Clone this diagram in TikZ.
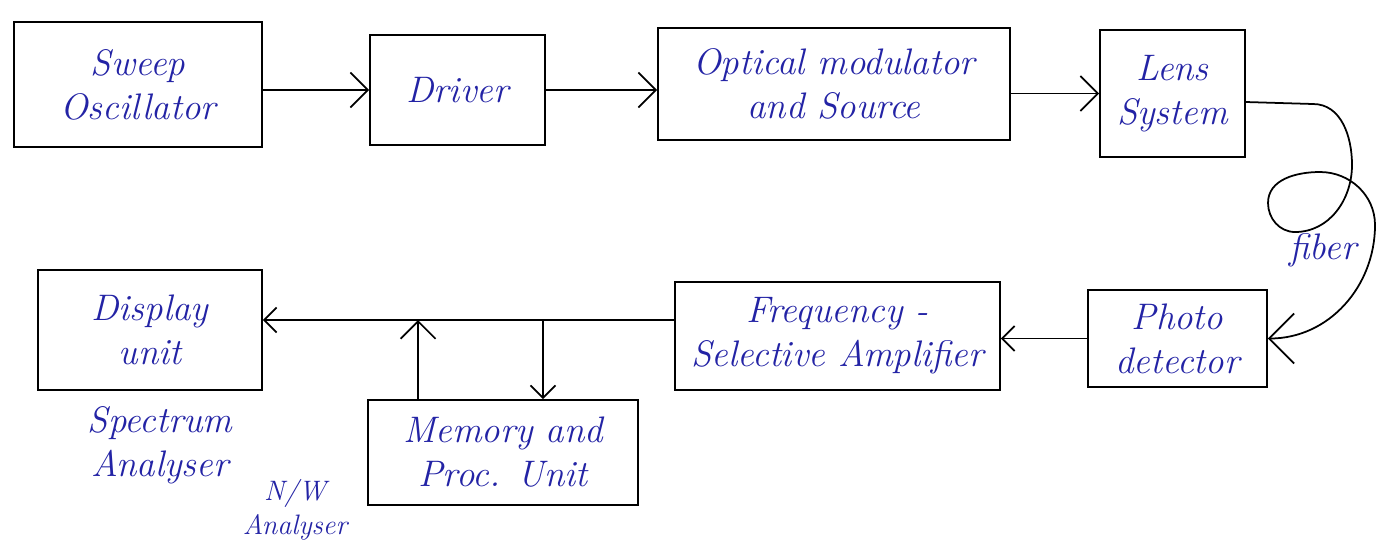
\documentclass[tikz,border=0pt]{standalone}
\usepackage{xcolor}
\usepackage{tikz}
\usetikzlibrary{arrows.meta,positioning,calc}
\definecolor{ink}{RGB}{35,35,165}

\begin{document}
\begin{tikzpicture}[
    block/.style={rectangle, draw, line width=1pt, align=center, inner sep=2pt, text=ink, font=\fontsize{21}{25}\selectfont\itshape},
    label/.style={align=center, text=ink, font=\fontsize{21}{25}\selectfont\itshape},
    arrow/.style={-{Straight Barb[length=3.5mm, width=7mm]}, line width=1pt},
    smallarrow/.style={-{Straight Barb[length=2.5mm, width=5mm]}, line width=1pt}
]
    \useasboundingbox (0,0) rectangle (27.58,-11.1);

    \node[block, minimum width=4.96cm, minimum height=2.5cm] (sweep) at (2.76,-1.69) {Sweep\\Oscillator};
    \node[block, minimum width=3.5cm, minimum height=2.2cm] (driver) at (9.15,-1.8) {Driver};
    \node[block, minimum width=7.04cm, minimum height=2.24cm] (optical) at (16.68,-1.68) {Optical modulator\\and Source};
    \node[block, minimum width=2.9cm, minimum height=2.54cm] (lens) at (23.45,-1.87) {Lens\\System};

    \node[block, minimum width=4.48cm, minimum height=2.4cm] (display) at (3.0,-6.6) {Display\\unit};
    \node[block, minimum width=6.5cm, minimum height=2.16cm] (freq) at (16.75,-6.72) {Frequency -\\Selective Amplifier};
    \node[block, minimum width=3.58cm, minimum height=1.94cm] (photo) at (23.55,-6.77) {Photo\\detector};
    \node[block, minimum width=5.4cm, minimum height=2.1cm] (memory) at (10.06,-9.05) {Memory and\\Proc. Unit};

    \node[label] (spectrum) at (3.2,-8.9) {Spectrum\\Analyser};
    \node[label, font=\fontsize{16}{19}\selectfont\itshape] (nw) at (5.9,-10.2) {N/W\\Analyser};
    \node[label] (fiberlbl) at (26.46,-5.0) {fiber};

    \coordinate (busstart) at ([yshift=0.32cm]freq.west);
    \coordinate (tapdown) at (busstart -| 10.86,0);
    \coordinate (tapup) at (busstart -| 8.36,0);
    \coordinate (fiberstart) at ([yshift=-0.17cm]lens.east);

    \draw[arrow] (sweep.east |- driver.west) -- (driver.west);
    \draw[arrow] (driver.east) -- (optical.west |- driver.east);
    \draw[arrow] (optical.east |- lens.west) -- (lens.west);
    \draw[smallarrow] (photo.west) -- (freq.east |- photo.west);
    \draw[smallarrow] (busstart) -- (busstart -| display.east);
    \draw[smallarrow] (tapdown) -- (tapdown |- memory.north);
    \draw[arrow] (tapup |- memory.north) -- (tapup);

    \draw[-{Straight Barb[length=5mm, width=10mm]}, line width=1pt] (fiberstart) -- (26.26,-2.08)
        to[out=0,in=90] (27.04,-3.3) to[out=-90,in=0] (25.9,-4.64)
        to[out=180,in=-90] (25.36,-4.06) to[out=90,in=180] (26.4,-3.44)
        to[out=0,in=90] (27.5,-4.5) to[out=-90,in=0] (photo.east);
\end{tikzpicture}
\end{document}
